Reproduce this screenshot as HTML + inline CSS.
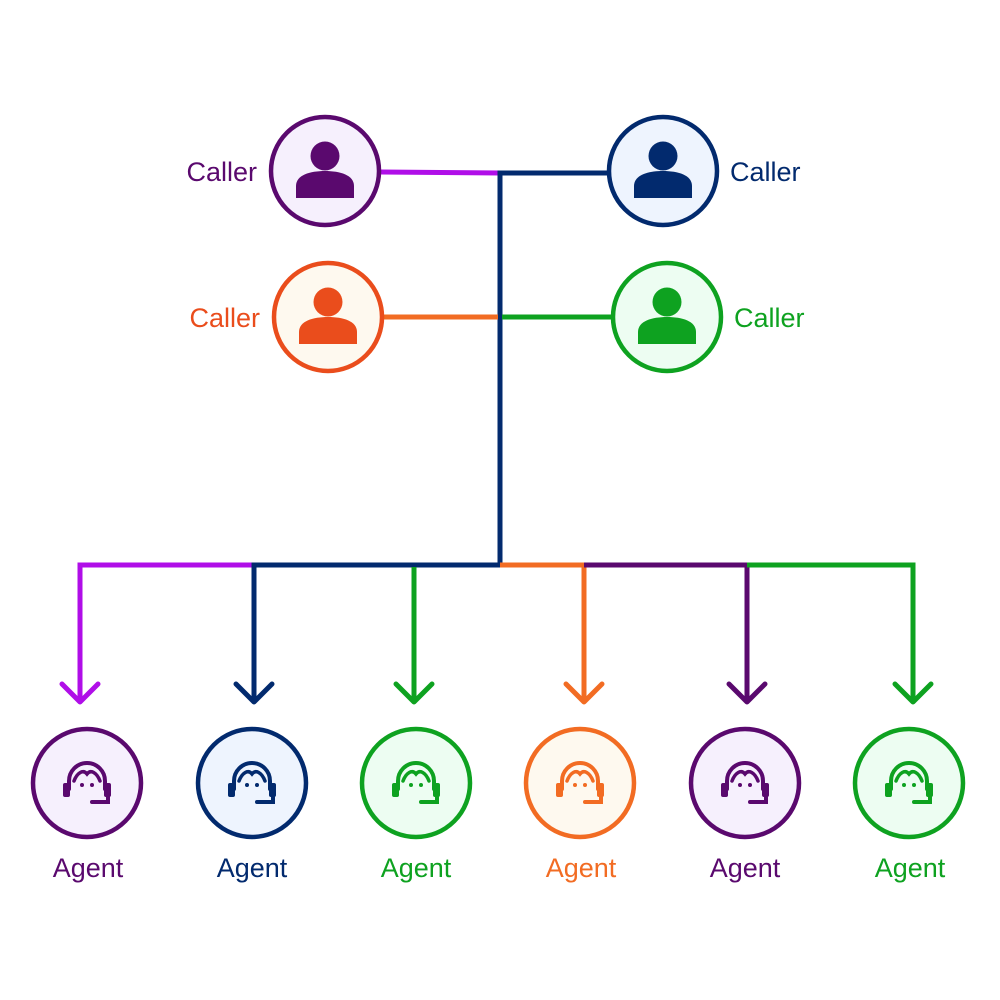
<!DOCTYPE html>
<html><head><style>body{margin:0;background:#fff}svg{display:block}</style></head><body>
<svg width="1000" height="1000" viewBox="0 0 1000 1000" xmlns="http://www.w3.org/2000/svg" font-family="Liberation Sans, sans-serif">
<defs>
<g id="person"><circle cx="0" cy="-15" r="14.5"/><path d="M-29 27 V15 C-29 4 -15 0 0 0 C15 0 29 4 29 15 V27 Z"/></g>
<g id="agent" stroke-width="4" stroke-linecap="round">
<path fill="none" d="M-18 6 V-2 A18 18 0 0 1 18 -2 V6"/>
<path fill="none" d="M-13 -2 C-10 -10 -4 -14 0 -9 C4 -14 10 -10 13 -2" stroke-width="3.5"/>
<rect x="-24" y="0" width="7" height="14" rx="2" stroke="none"/>
<rect x="17" y="0" width="7" height="14" rx="2" stroke="none"/>
<path fill="none" d="M21 12 V19 H5"/>
<circle cx="-5" cy="2" r="2" stroke="none"/><circle cx="5" cy="2" r="2" stroke="none"/>
</g>
</defs>
<g stroke-width="5" fill="none" stroke-linecap="butt">
<line x1="380" y1="172" x2="500" y2="173" stroke="#b00ee8"/>
<path d="M500 565 V173 H610" stroke="#022a6e"/>
<line x1="383" y1="317" x2="498" y2="317" stroke="#f26c23"/>
<line x1="502" y1="317" x2="613" y2="317" stroke="#0ea220"/>
<path d="M80 700 V565 H254" stroke="#b00ee8"/>
<path d="M254 700 V565 H500" stroke="#022a6e"/>
<path d="M414 700 V567" stroke="#0ea220"/>
<path d="M500 565 H584 V700" stroke="#f26c23"/>
<path d="M584 565 H747 V700" stroke="#5a096e"/>
<path d="M747 565 H913 V700" stroke="#0ea220"/>
</g>
<g stroke-width="5" fill="none" stroke-linecap="round" stroke-linejoin="round">
<path d="M62 684 L80 702 L98 684" stroke="#b00ee8"/>
<path d="M236 684 L254 702 L272 684" stroke="#022a6e"/>
<path d="M396 684 L414 702 L432 684" stroke="#0ea220"/>
<path d="M566 684 L584 702 L602 684" stroke="#f26c23"/>
<path d="M729 684 L747 702 L765 684" stroke="#5a096e"/>
<path d="M895 684 L913 702 L931 684" stroke="#0ea220"/>
</g>
<g stroke-width="4.5">
<circle cx="325" cy="171" r="54" fill="#f6f0fd" stroke="#5a096e"/>
<circle cx="663" cy="171" r="54" fill="#eef4fe" stroke="#022a6e"/>
<circle cx="328" cy="317" r="54" fill="#fef9ef" stroke="#ea4d1c"/>
<circle cx="667" cy="317" r="54" fill="#edfdf2" stroke="#0ea220"/>
</g>
<use href="#person" x="325" y="171" fill="#5a096e"/>
<use href="#person" x="663" y="171" fill="#022a6e"/>
<use href="#person" x="328" y="317" fill="#ea4d1c"/>
<use href="#person" x="667" y="317" fill="#0ea220"/>
<g font-size="27">
<text x="257" y="181" text-anchor="end" fill="#5a096e">Caller</text>
<text x="730" y="181" fill="#022a6e">Caller</text>
<text x="260" y="327" text-anchor="end" fill="#ea4d1c">Caller</text>
<text x="734" y="327" fill="#0ea220">Caller</text>
</g>
<g stroke-width="4.5">
<circle cx="87" cy="783" r="54" fill="#f6f0fd" stroke="#5a096e"/>
<circle cx="252" cy="783" r="54" fill="#eef4fe" stroke="#022a6e"/>
<circle cx="416" cy="783" r="54" fill="#edfdf2" stroke="#0ea220"/>
<circle cx="580" cy="783" r="54" fill="#fef9ef" stroke="#f26c23"/>
<circle cx="745" cy="783" r="54" fill="#f6f0fd" stroke="#5a096e"/>
<circle cx="909" cy="783" r="54" fill="#edfdf2" stroke="#0ea220"/>
</g>
<use href="#agent" x="87" y="783" stroke="#5a096e" fill="#5a096e"/>
<use href="#agent" x="252" y="783" stroke="#022a6e" fill="#022a6e"/>
<use href="#agent" x="416" y="783" stroke="#0ea220" fill="#0ea220"/>
<use href="#agent" x="580" y="783" stroke="#f26c23" fill="#f26c23"/>
<use href="#agent" x="745" y="783" stroke="#5a096e" fill="#5a096e"/>
<use href="#agent" x="909" y="783" stroke="#0ea220" fill="#0ea220"/>
<g font-size="27" text-anchor="middle">
<text x="88" y="877" fill="#5a096e">Agent</text>
<text x="252" y="877" fill="#022a6e">Agent</text>
<text x="416" y="877" fill="#0ea220">Agent</text>
<text x="581" y="877" fill="#f26c23">Agent</text>
<text x="745" y="877" fill="#5a096e">Agent</text>
<text x="910" y="877" fill="#0ea220">Agent</text>
</g>
</svg>
</body></html>
